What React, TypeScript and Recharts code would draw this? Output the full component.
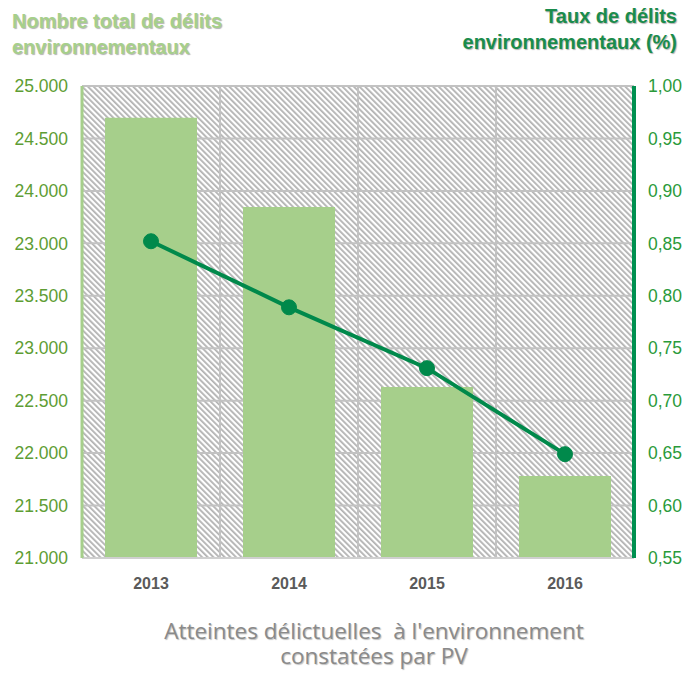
import { ComposedChart, Bar, Line, XAxis, YAxis, CartesianGrid } from 'recharts';

const years = ['2013', '2014', '2015', '2016'];
const totalOffences = [24730, 23975, 22450, 21695];
const offenceRate = [0.852, 0.789, 0.731, 0.649];

// the left axis labels are printed as in the source (23.000 shows up twice)
const leftTickLabels = ['21.000', '21.500', '22.000', '22.500', '23.000', '23.500', '23.000', '24.000', '24.500', '25.000'];
const rightTicks = [0.55, 0.6, 0.65, 0.7, 0.75, 0.8, 0.85, 0.9, 0.95, 1.0];

const leftMin = 21000;
const leftMax = 25000;
const leftStep = (leftMax - leftMin) / (leftTickLabels.length - 1);
const leftTicks = leftTickLabels.map((_, i) => leftMin + i * leftStep);

const data = years.map((year, i) => ({
  year,
  total: totalOffences[i],
  rate: offenceRate[i],
}));

const barGreen = '#a6cf8b';
const lineGreen = '#00894b';

const titleStyle: React.CSSProperties = {
  position: 'absolute',
  fontFamily: '"Liberation Sans", Arial, sans-serif',
  fontWeight: 700,
  fontSize: 20,
  lineHeight: '26px',
  textShadow: '1px 1px 1px rgba(0,0,0,0.3)',
  whiteSpace: 'nowrap',
};

export default function App() {
  return (
    <div style={{ position: 'absolute', left: 0, top: 0, width: 690, height: 679, background: '#fff' }}>
      <div style={{ ...titleStyle, left: 12, top: 8, color: barGreen }}>
        Nombre total de délits
        <br />
        environnementaux
      </div>
      <div style={{ ...titleStyle, right: 13, top: 3, color: '#1a8c4c', textAlign: 'right' }}>
        Taux de délits
        <br />
        environnementaux (%)
      </div>

      <ComposedChart
        width={690}
        height={679}
        data={data}
        margin={{ top: 86, right: 0, bottom: 0, left: 0 }}
      >
        <defs>
          <pattern id="hatch" width="4" height="4" patternUnits="userSpaceOnUse" patternTransform="rotate(-45)">
            <rect width="4" height="4" fill="#ffffff" />
            <rect width="1.8" height="4" fill="#b2b2b2" />
          </pattern>
        </defs>
        <CartesianGrid
          yAxisId="left"
          fill="url(#hatch)"
          fillOpacity={1}
          stroke="#c2c2c2"
          strokeWidth={2}
          verticalCoordinatesGenerator={({ offset }: any) =>
            [1, 2, 3].map((i) => offset.left + (i * offset.width) / years.length)
          }
        />
        <XAxis
          dataKey="year"
          axisLine={{ stroke: '#cfcfcf', strokeWidth: 2 }}
          tickLine={false}
          tickSize={0}
          tickMargin={20}
          height={121}
          tick={{ fill: '#5a5a5a', fontSize: 16, fontWeight: 700, fontFamily: '"Liberation Sans", Arial, sans-serif' }}
        />
        <YAxis
          yAxisId="left"
          orientation="left"
          type="number"
          domain={[leftMin, leftMax]}
          ticks={leftTicks}
          interval={0}
          width={82}
          axisLine={{ stroke: barGreen, strokeWidth: 3 }}
          tickLine={false}
          tickSize={0}
          tickMargin={14}
          tickFormatter={(v: number) => leftTickLabels[Math.round((v - leftMin) / leftStep)]}
          tick={{ fill: '#5e9d34', fontSize: 17.5, fontFamily: '"Liberation Sans", Arial, sans-serif' }}
        />
        <YAxis
          yAxisId="right"
          orientation="right"
          type="number"
          domain={[0.55, 1.0]}
          ticks={rightTicks}
          interval={0}
          width={56}
          axisLine={{ stroke: '#009050', strokeWidth: 4 }}
          tickLine={false}
          tickSize={0}
          tickMargin={14}
          tickFormatter={(v: number) => v.toFixed(2).replace('.', ',')}
          tick={{ fill: '#2a9a3a', fontSize: 17.5, fontFamily: '"Liberation Sans", Arial, sans-serif' }}
        />
        <Bar yAxisId="left" dataKey="total" fill={barGreen} barSize={92} isAnimationActive={false} />
        <Line
          yAxisId="right"
          dataKey="rate"
          stroke={lineGreen}
          strokeWidth={4}
          dot={{ r: 7.5, fill: lineGreen, stroke: lineGreen, strokeWidth: 1 }}
          activeDot={false}
          isAnimationActive={false}
        />
      </ComposedChart>

      <div
        style={{
          position: 'absolute',
          left: 0,
          width: 748,
          top: 618,
          textAlign: 'center',
          fontFamily: '"Open Sans", sans-serif',
          fontSize: 22.5,
          lineHeight: '25px',
          color: '#8a8a8a',
          textShadow: '1px 1px 1px rgba(0,0,0,0.25)',
          whiteSpace: 'pre',
        }}
      >
        {'Atteintes délictuelles  à l\'environnement\nconstatées par PV'}
      </div>
    </div>
  );
}
